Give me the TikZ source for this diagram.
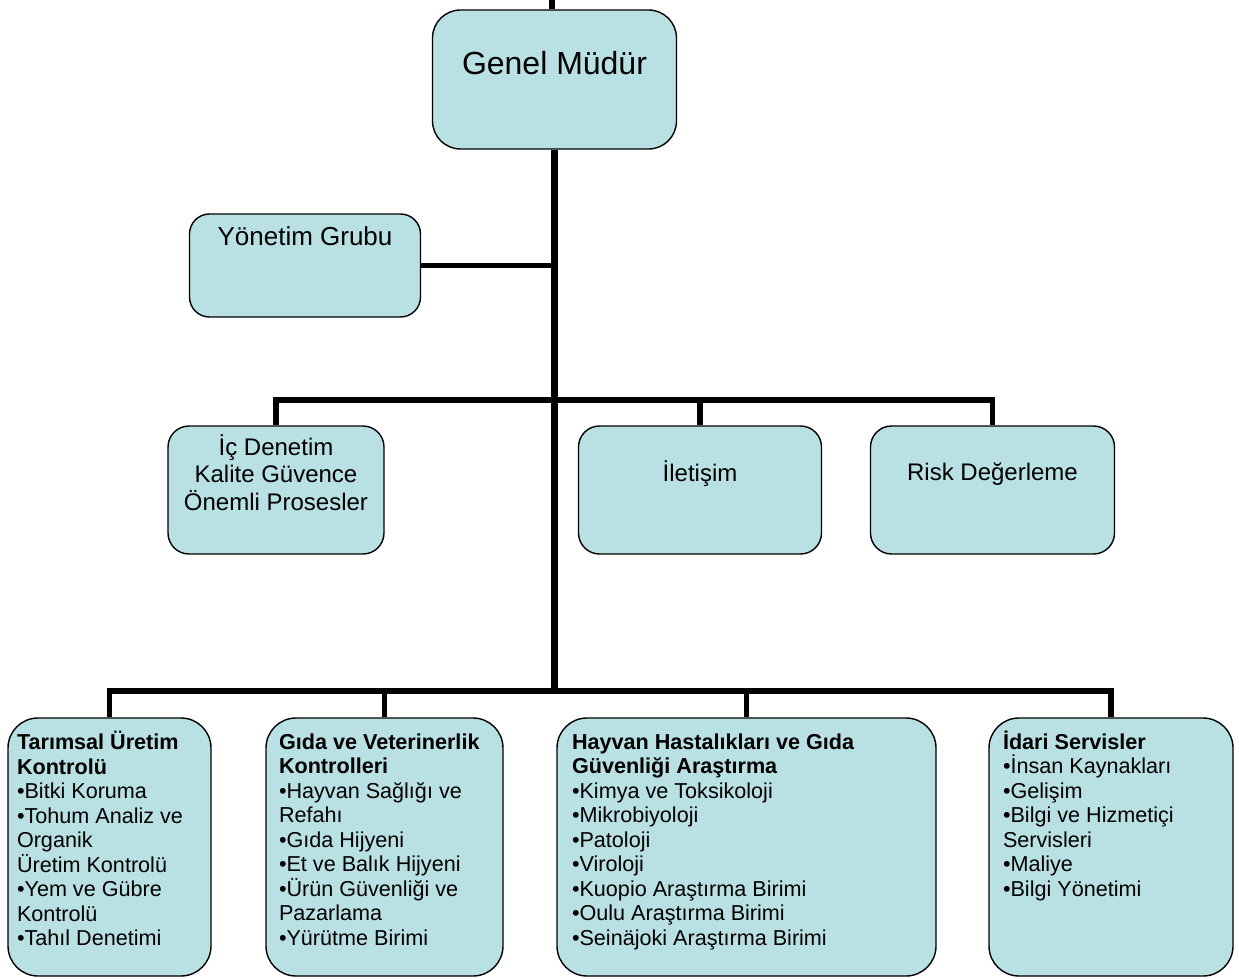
\documentclass[tikz,border=0pt]{standalone}
\usepackage{fontspec}
\setmainfont{Liberation Sans}
\definecolor{orgblue}{RGB}{185,224,227}
\tikzset{
  >=latex,
}
\tikzstyle{unit}=[draw,fill=orgblue,line width=1.4pt,inner sep=0pt]
\tikzstyle{trunk}=[line width=6.5pt]
\tikzstyle{link}=[line width=5.5pt]
\tikzstyle{bigfont}=[font=\fontsize{32}{38}\selectfont]
\tikzstyle{midfont}=[font=\fontsize{24}{27.5}\selectfont]
\tikzstyle{smallfont}=[font=\fontsize{21.6}{24.5}\selectfont]
% width, height, first baseline from top, text
\newcommand{\boxtext}[4]{\parbox[c][#2][t]{#1}{\hbox{}\vspace{\dimexpr#3-\baselineskip\relax}#4}}

\begin{document}
\begin{tikzpicture}[x=1pt,y=-1pt]
    \useasboundingbox (0,0) rectangle (1239,979);
    \node[unit,bigfont,rounded corners=28pt] (gm) at (554.5,79.5)
      {\boxtext{244pt}{139pt}{65pt}{\centering Genel Müdür}};
    \node[unit,font=\fontsize{26}{30}\selectfont,rounded corners=20pt] (yg) at (305,265.5)
      {\boxtext{231pt}{103pt}{31pt}{\centering Yönetim Grubu}};
    \node[unit,midfont,rounded corners=21pt] (ic) at (276,490)
      {\boxtext{216pt}{128pt}{29pt}{\centering İç Denetim\\Kalite Güvence\\Önemli Prosesler}};
    \node[unit,midfont,rounded corners=21pt] (ilet) at (700,490)
      {\boxtext{243pt}{128pt}{55pt}{\centering İletişim}};
    \node[unit,midfont,rounded corners=21pt] (risk) at (992.5,490)
      {\boxtext{244pt}{128pt}{54pt}{\centering Risk Değerleme}};
    \node[unit,smallfont,rounded corners=30pt,inner xsep=9pt] (tarim) at (109.5,847)
      {\boxtext{185pt}{258pt}{31.5pt}{\raggedright\textbf{Tarımsal Üretim\\Kontrolü}\\•Bitki Koruma\\•Tohum Analiz ve\\Organik\\Üretim Kontrolü\\•Yem ve Gübre\\Kontrolü\\•Tahıl Denetimi}};
    \node[unit,smallfont,rounded corners=30pt,inner xsep=13pt] (gida) at (384.5,847)
      {\boxtext{211pt}{258pt}{31pt}{\raggedright\textbf{Gıda ve Veterinerlik\\Kontrolleri}\\•Hayvan Sağlığı ve\\Refahı\\•Gıda Hijyeni\\•Et ve Balık Hijyeni\\•Ürün Güvenliği ve\\Pazarlama\\•Yürütme Birimi}};
    \node[unit,smallfont,rounded corners=30pt,inner xsep=15pt] (hayvan) at (746.5,847)
      {\boxtext{349pt}{258pt}{31pt}{\raggedright\textbf{Hayvan Hastalıkları ve Gıda\\Güvenliği Araştırma}\\•Kimya ve Toksikoloji\\•Mikrobiyoloji\\•Patoloji\\•Viroloji\\•Kuopio Araştırma Birimi\\•Oulu Araştırma Birimi\\•Seinäjoki Araştırma Birimi}};
    \node[unit,smallfont,rounded corners=30pt,inner xsep=14pt] (idari) at (1111,847)
      {\boxtext{216pt}{258pt}{31pt}{\raggedright\textbf{İdari Servisler}\\•İnsan Kaynakları\\•Gelişim\\•Bilgi ve Hizmetiçi\\Servisleri\\•Maliye\\•Bilgi Yönetimi}};
    % bars
    \coordinate (top) at (552,0);
    \coordinate (midbar) at (554.5,400);
    \coordinate (lowbar) at (554.5,691);
    \draw[link] (top) -- (top |- gm.north);
    \draw[trunk] (gm.south) -- (lowbar);
    \draw[link] (yg.east) -- (yg.east -| gm.south);
    \draw[link] (ic.north) |- (midbar) -| (risk.north);
    \draw[link] (ilet.north |- midbar) -- (ilet.north);
    \draw[link] (tarim.north) |- (lowbar) -| (idari.north);
    \draw[link] (gida.north |- lowbar) -- (gida.north);
    \draw[link] (hayvan.north |- lowbar) -- (hayvan.north);
  \end{tikzpicture}
\end{document}
